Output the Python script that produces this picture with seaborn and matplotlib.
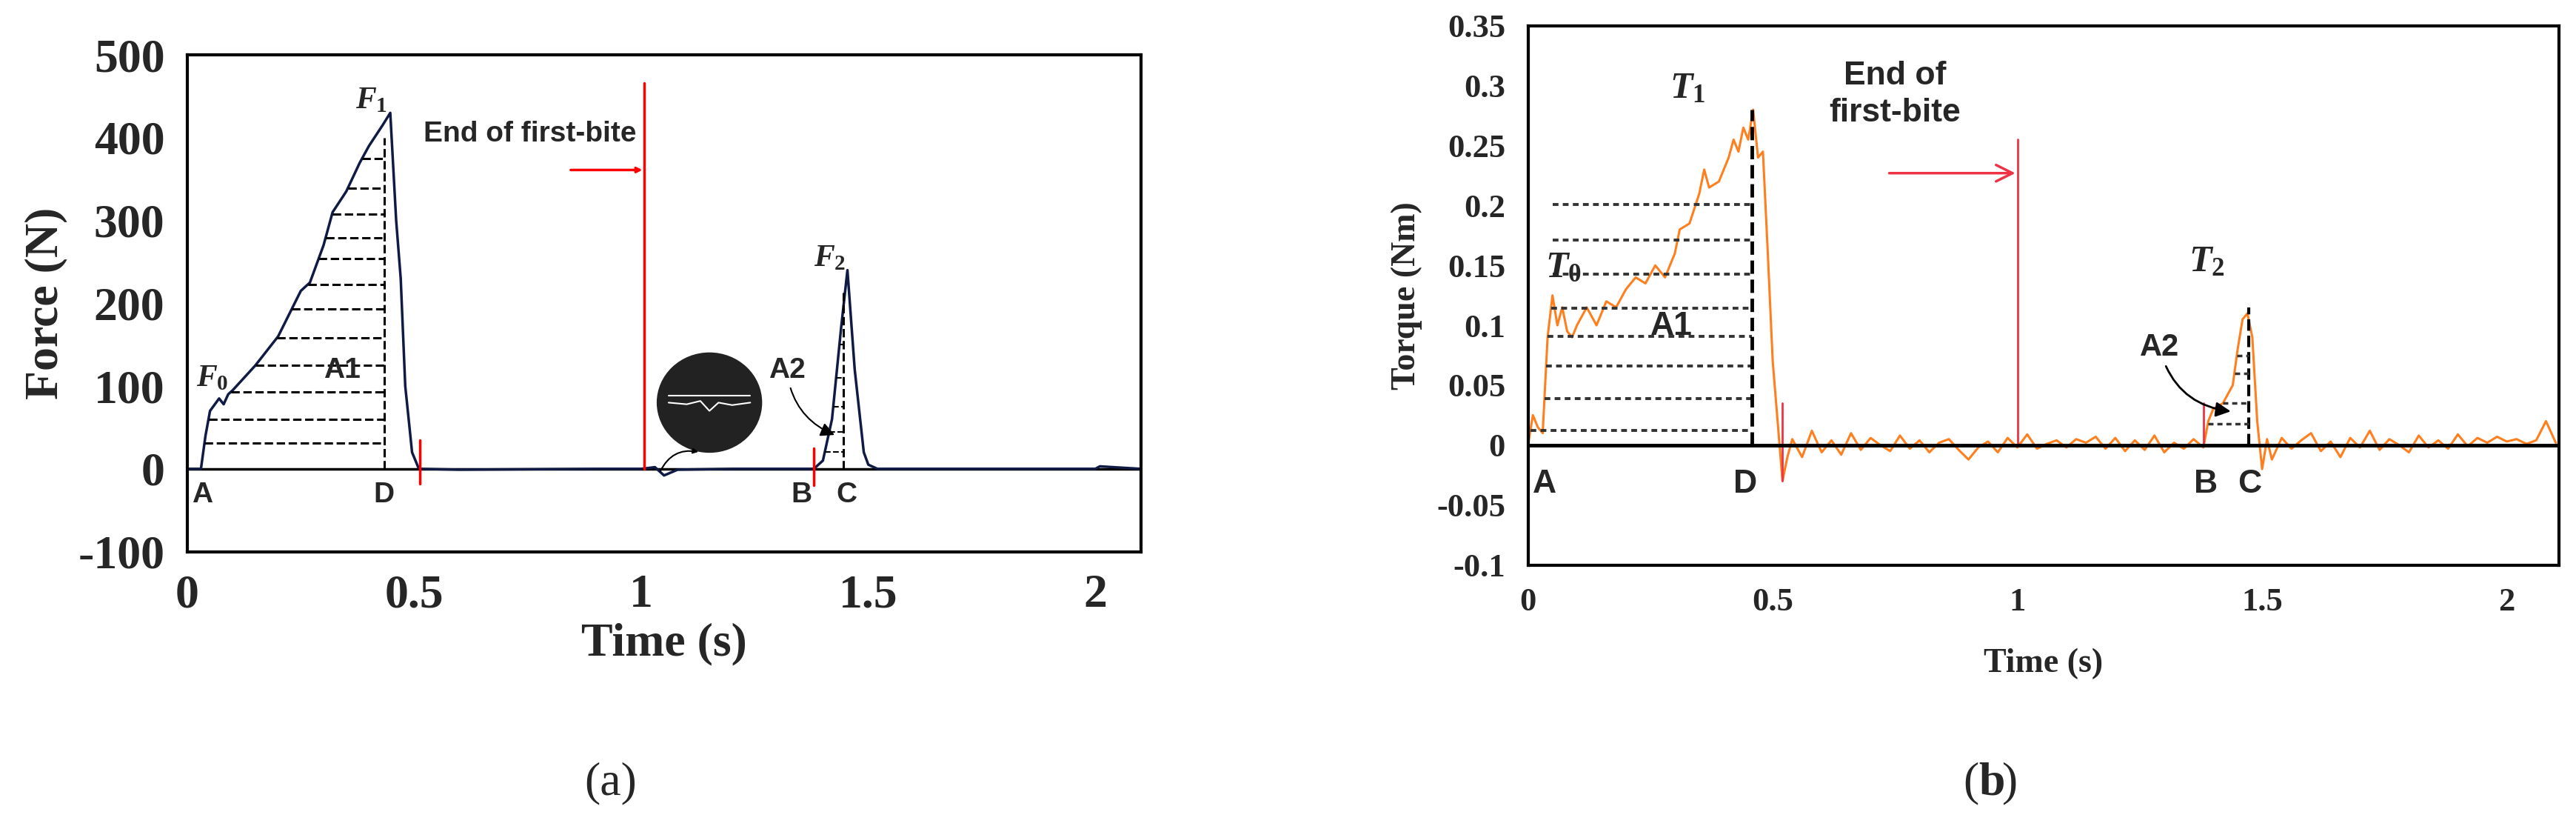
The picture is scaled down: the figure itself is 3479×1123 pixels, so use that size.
import numpy as np
import pandas as pd
import seaborn as sns
import matplotlib.pyplot as plt
from matplotlib.patches import Ellipse

# (a) force curve
force_t = [0, 0.03, 0.04, 0.05, 0.07, 0.08, 0.09, 0.1, 0.15, 0.2, 0.25, 0.27, 0.3, 0.32, 0.35,
           0.38, 0.4, 0.43, 0.447, 0.46, 0.47, 0.48, 0.495, 0.51, 0.6, 0.9, 1.0, 1.03, 1.05, 1.08,
           1.2, 1.38, 1.40, 1.42, 1.44, 1.454, 1.47, 1.49, 1.5, 1.52, 1.8, 2.0, 2.01, 2.1]
force_v = [0, 0, 40, 70, 85, 78, 90, 95, 125, 160, 215, 225, 270, 310, 335,
           370, 390, 415, 430, 300, 230, 100, 20, 0, -1, 0, 0, 2, -8, -1,
           0, 0, 10, 60, 170, 240, 120, 20, 5, 0, 0, 0, 3, 0]
force_dash = [31, 60, 93, 125, 158, 193, 223, 254, 279, 308, 339, 375]
force_dash2 = [20, 45, 75, 110, 150, 200]

# (b) torque curve
torque_t = [0, 0.01, 0.02, 0.03, 0.04, 0.05, 0.06, 0.07, 0.08, 0.09, 0.1, 0.12, 0.14, 0.16, 0.18,
            0.2, 0.22, 0.24, 0.26, 0.28, 0.3, 0.31, 0.33, 0.35, 0.36, 0.37, 0.39, 0.41, 0.42, 0.43,
            0.44, 0.45, 0.46, 0.47, 0.48, 0.49, 0.5, 0.51, 0.52, 0.53]
torque_v = [0, 0.025, 0.015, 0.01, 0.09, 0.125, 0.1, 0.115, 0.095, 0.09, 0.1, 0.115, 0.1, 0.12, 0.115,
            0.13, 0.14, 0.135, 0.15, 0.14, 0.16, 0.18, 0.185, 0.21, 0.23, 0.215, 0.22, 0.24, 0.255, 0.245,
            0.265, 0.255, 0.28, 0.24, 0.245, 0.16, 0.07, 0.02, -0.03, -0.01]
noise_mid = [0.005, -0.01, 0.012, -0.006, 0.004, -0.008, 0.01, -0.004, 0.006, 0.0, -0.005, 0.008,
             -0.003, 0.004, -0.006, 0.002, 0.005, -0.004, -0.012, -0.002, 0.003, -0.006, 0.006, -0.002,
             0.009, -0.003, 0.001, 0.004, -0.002, 0.005, 0.002, 0.007, -0.003, 0.006, -0.005, 0.004,
             -0.004, 0.008, -0.006, 0.002, -0.003, 0.005, -0.002]
torque_t2 = [1.39, 1.40, 1.42, 1.44, 1.45, 1.46, 1.47, 1.48, 1.49, 1.50, 1.51]
torque_v2 = [0.02, 0.03, 0.035, 0.05, 0.08, 0.105, 0.11, 0.09, 0.02, -0.02, 0.005]
noise_end = [-0.012, 0.006, -0.003, 0.004, 0.01, -0.005, 0.003, -0.01, 0.006, -0.002, 0.012,
             -0.004, 0.005, 0.0, -0.006, 0.008, -0.002, 0.004, -0.003, 0.009, -0.001, 0.006,
             0.002, 0.007, 0.003, 0.005, 0.001, 0.004, 0.02, 0.002]
torque_dash = [0.012, 0.039, 0.066, 0.091, 0.114, 0.143, 0.171, 0.201]
torque_dash2 = [0.018, 0.035, 0.06, 0.075]

t_all = (torque_t + [0.54 + 0.02 * i for i in range(len(noise_mid))] + torque_t2
         + [1.52 + 0.02 * i for i in range(len(noise_end))])
v_all = torque_v + noise_mid + torque_v2 + noise_end
df_f = pd.DataFrame({"t": force_t, "v": force_v})
df_q = pd.DataFrame({"t": t_all, "v": v_all})

sns.set_style("white")
plt.rcParams['font.family'] = ['Liberation Sans', 'DejaVu Sans']
plt.rcParams['axes.unicode_minus'] = False
plt.rcParams['mathtext.fontset'] = 'custom'
plt.rcParams['mathtext.it'] = 'Liberation Serif:italic:bold'
plt.rcParams['mathtext.rm'] = 'Liberation Serif:bold'
serif = 'Liberation Serif'

fig = plt.figure(figsize=(34.8, 11.23), dpi=100)

# ---------- panel (a)
ax = fig.add_axes([0.0727, 0.337, 0.370, 0.597])
sns.lineplot(data=df_f, x="t", y="v", ax=ax, color="#0f1a45", lw=2.5)
ax.axhline(0, color="black", lw=2.5, zorder=1)
for y in force_dash:
    x0 = np.interp(y, force_v[:19], force_t[:19])
    ax.plot([x0, 0.434], [y, y], ls="--", color="black", lw=2.2)
ax.plot([0.434, 0.434], [0, 400], ls="--", color="black", lw=2.2)
ax.plot([1.445, 1.445], [0, 215], ls="--", color="black", lw=2.2)
for y in force_dash2:
    x0 = np.interp(y, force_v[32:36], force_t[32:36])
    ax.plot([x0, 1.445], [y, y], ls="--", color="black", lw=1.5)
ax.plot([1.007, 1.007], [0, 466], color="red", lw=2.5)
ax.plot([0.512, 0.512], [-18, 35], color="red", lw=2.5)
ax.plot([1.38, 1.38], [-20, 25], color="red", lw=2.5)
ax.annotate("", xy=(1.007, 361), xytext=(0.84, 361),
            arrowprops=dict(arrowstyle="->", color="red", lw=2.5))
ax.text(0.52, 395, "End of first-bite", fontsize=28, weight="bold", fontstretch="condensed")
ax.add_patch(Ellipse((1.15, 80), 0.23, 120, color="#222222", zorder=3))
xs = np.linspace(1.06, 1.24, 30)
ax.plot(xs, 88 + 0 * xs, color="white", lw=1.5, zorder=4)
ax.plot([1.06, 1.1, 1.13, 1.15, 1.17, 1.2, 1.24], [80, 78, 82, 70, 80, 77, 80], color="white", lw=1.5, zorder=4)
ax.annotate("", xy=(1.13, 20), xytext=(1.04, -5),
            arrowprops=dict(arrowstyle="-|>", color="black", lw=1.5, connectionstyle="arc3,rad=-0.4"))
ax.annotate("A2", xy=(1.43, 40), xytext=(1.28, 110), fontsize=28, weight="bold",
            arrowprops=dict(arrowstyle="-|>", color="black", lw=1.5, connectionstyle="arc3,rad=0.3"))
for lab, x in [("A", 0.01), ("D", 0.41), ("B", 1.33), ("C", 1.43)]:
    ax.text(x, -40, lab, fontsize=28, weight="bold")
ax.text(0.3, 110, "A1", fontsize=28, weight="bold")
ax.text(0.02, 100, "$F_0$", fontsize=30)
ax.text(0.37, 435, "$F_1$", fontsize=30)
ax.text(1.38, 245, "$F_2$", fontsize=30)
ax.set_xlim(0, 2.1)
ax.set_ylim(-100, 500)
ax.set_xticks([0, 0.5, 1, 1.5, 2], ["0", "0.5", "1", "1.5", "2"])
ax.set_yticks(range(-100, 501, 100))
ax.tick_params(labelsize=46, length=0, pad=22)
for lbl in ax.get_xticklabels() + ax.get_yticklabels():
    lbl.set_family(serif)
    lbl.set_weight("bold")
ax.set_xlabel("Time (s)", fontsize=46, family=serif, weight="bold", labelpad=5)
ax.set_ylabel("Force (N)", fontsize=46, family=serif, weight="bold", labelpad=10)
for s in ax.spines.values():
    s.set_linewidth(3)
    s.set_color("black")

# ---------- panel (b)
bx = fig.add_axes([0.593, 0.321, 0.400, 0.648])
sns.lineplot(data=df_q, x="t", y="v", ax=bx, color="#ff7f1e", lw=2.2)
bx.axhline(0, color="black", lw=3.5, zorder=3)
for y in torque_dash:
    x0 = np.interp(y, torque_v[:6], torque_t[:6])
    bx.plot([x0, 0.458], [y, y], ls=(0, (2, 1.5)), color="#333333", lw=2.8)
bx.plot([0.458, 0.458], [0, 0.28], ls="--", color="black", lw=3.5)
bx.plot([1.473, 1.473], [0, 0.115], ls="--", color="black", lw=3)
for y in torque_dash2:
    x0 = np.interp(y, torque_v2[:7], torque_t2[:7])
    bx.plot([x0, 1.473], [y, y], ls=(0, (2, 1.5)), color="#333333", lw=2.5)
bx.plot([1.0, 1.0], [0, 0.255], color="#ee3344", lw=2)
bx.plot([0.52, 0.52], [-0.03, 0.035], color="#ee3344", lw=2)
bx.plot([1.38, 1.38], [0, 0.035], color="#ee3344", lw=2)
bx.annotate("", xy=(1.0, 0.227), xytext=(0.734, 0.227),
            arrowprops=dict(arrowstyle="->", color="#ee3344", lw=2.5, mutation_scale=40))
bx.text(0.75, 0.27, "End of\nfirst-bite", fontsize=32, weight="bold", ha="center",
        linespacing=1.3, fontstretch="condensed")
bx.annotate("A2", xy=(1.44, 0.028), xytext=(1.25, 0.075), fontsize=30, weight="bold",
            arrowprops=dict(arrowstyle="-|>", color="black", lw=2, mutation_scale=30,
                            connectionstyle="arc3,rad=0.35"))
for lab, x in [("A", 0.01), ("D", 0.42), ("B", 1.36), ("C", 1.45)]:
    bx.text(x, -0.04, lab, fontsize=32, weight="bold")
bx.text(0.25, 0.092, "A1", fontsize=32, weight="bold")
bx.text(0.035, 0.14, "$T_0$", fontsize=36)
bx.text(0.29, 0.29, "$T_1$", fontsize=36)
bx.text(1.35, 0.145, "$T_2$", fontsize=36)
bx.set_xlim(0, 2.106)
bx.set_ylim(-0.1, 0.35)
bx.set_xticks([0, 0.5, 1, 1.5, 2], ["0", "0.5", "1", "1.5", "2"])
yt = [-0.1, -0.05, 0, 0.05, 0.1, 0.15, 0.2, 0.25, 0.3, 0.35]
bx.set_yticks(yt, ["-0.1", "-0.05", "0", "0.05", "0.1", "0.15", "0.2", "0.25", "0.3", "0.35"])
bx.tick_params(labelsize=32, length=0, pad=22)
for lbl in bx.get_xticklabels() + bx.get_yticklabels():
    lbl.set_family(serif)
    lbl.set_weight("bold")
bx.set_xlabel("Time (s)", fontsize=33, family=serif, weight="bold", labelpad=30)
bx.set_ylabel("Torque (Nm)", fontsize=33, family=serif, weight="bold", labelpad=14)
for s in bx.spines.values():
    s.set_linewidth(3)
    s.set_color("black")

fig.text(0.237, 0.045, "(a)", fontsize=46, family=serif, ha="center")
fig.text(0.768, 0.045, "(", fontsize=46, family=serif, ha="right")
fig.text(0.768, 0.045, "b", fontsize=46, family=serif, weight="bold", ha="left")
fig.text(0.777, 0.045, ")", fontsize=46, family=serif, ha="left")

fig.savefig("out.png", dpi=100)
